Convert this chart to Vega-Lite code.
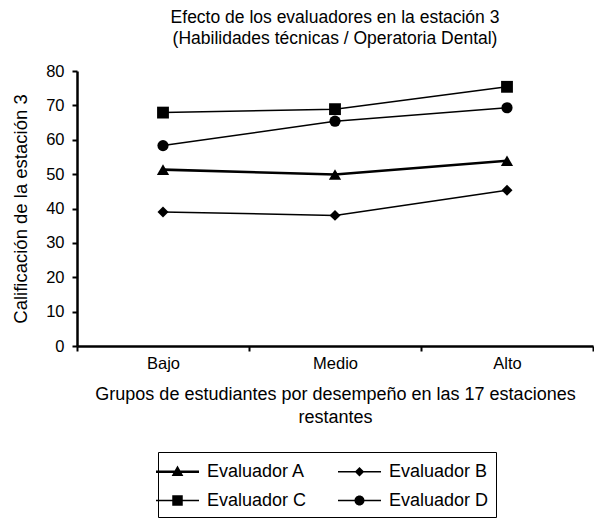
{
  "$schema": "https://vega.github.io/schema/vega-lite/v6.json",
  "width": 516,
  "height": 275,
  "autosize": {"type": "none"},
  "padding": {"left": 77, "top": 71, "right": 1, "bottom": 173},
  "background": "white",
  "config": {
    "font": "Liberation Sans",
    "view": {"stroke": null},
    "title": {"fontSize": 17.5, "fontWeight": "normal", "color": "black", "lineHeight": 21, "offset": 16}
  },
  "title": {"text": ["Efecto de los evaluadores en la estación 3", "(Habilidades técnicas / Operatoria Dental)"], "anchor": "middle"},
  "data": {
    "values": [
      {"grupo": "Bajo", "evaluador": "Evaluador A", "valor": 51.3},
      {"grupo": "Medio", "evaluador": "Evaluador A", "valor": 49.9},
      {"grupo": "Alto", "evaluador": "Evaluador A", "valor": 53.9},
      {"grupo": "Bajo", "evaluador": "Evaluador B", "valor": 39.0},
      {"grupo": "Medio", "evaluador": "Evaluador B", "valor": 38.0},
      {"grupo": "Alto", "evaluador": "Evaluador B", "valor": 45.3},
      {"grupo": "Bajo", "evaluador": "Evaluador C", "valor": 67.9},
      {"grupo": "Medio", "evaluador": "Evaluador C", "valor": 68.9},
      {"grupo": "Alto", "evaluador": "Evaluador C", "valor": 75.4},
      {"grupo": "Bajo", "evaluador": "Evaluador D", "valor": 58.3},
      {"grupo": "Medio", "evaluador": "Evaluador D", "valor": 65.4},
      {"grupo": "Alto", "evaluador": "Evaluador D", "valor": 69.3}
    ]
  },
  "encoding": {
    "x": {
      "field": "grupo", "type": "nominal", "sort": ["Bajo", "Medio", "Alto"],
      "scale": {"paddingInner": 0, "paddingOuter": 0},
      "axis": {
        "title": ["Grupos de estudiantes por desempeño en las 17 estaciones", "restantes"],
        "titleFontSize": 18, "titleFontWeight": "normal", "titleColor": "black", "titleLineHeight": 23, "titlePadding": 14,
        "labelAngle": 0, "labelFontSize": 16.5, "labelColor": "black", "labelPadding": 4,
        "tickBand": "extent", "tickSize": 5, "tickColor": "black", "tickWidth": 2,
        "domainColor": "black", "domainWidth": 2.5, "grid": false
      }
    },
    "y": {
      "field": "valor", "type": "quantitative",
      "scale": {"domain": [0, 80], "nice": false},
      "axis": {
        "title": "Calificación de la estación 3",
        "titleFontSize": 18.5, "titleFontWeight": "normal", "titleColor": "black", "titlePadding": 15,
        "values": [0, 10, 20, 30, 40, 50, 60, 70, 80],
        "labelFontSize": 16.5, "labelColor": "black", "labelPadding": 8,
        "tickSize": 5, "tickColor": "black", "tickWidth": 2,
        "domainColor": "black", "domainWidth": 2.5, "grid": false
      }
    }
  },
  "layer": [
    {
      "mark": {"type": "line", "color": "black"},
      "encoding": {
        "detail": {"field": "evaluador", "type": "nominal"},
        "strokeWidth": {"condition": {"test": "datum.evaluador === 'Evaluador A'", "value": 2.6}, "value": 1.5}
      }
    },
    {
      "transform": [{"filter": "datum.evaluador === 'Evaluador A'"}],
      "mark": {"type": "point", "shape": "triangle-up", "filled": true, "color": "black", "opacity": 1, "size": 150},
      "encoding": {}
    },
    {
      "transform": [{"filter": "datum.evaluador === 'Evaluador B'"}],
      "mark": {"type": "point", "shape": "diamond", "filled": true, "color": "black", "opacity": 1, "size": 120},
      "encoding": {}
    },
    {
      "transform": [{"filter": "datum.evaluador === 'Evaluador C'"}],
      "mark": {"type": "point", "shape": "square", "filled": true, "color": "black", "opacity": 1, "size": 140},
      "encoding": {}
    },
    {
      "transform": [{"filter": "datum.evaluador === 'Evaluador D'"}],
      "mark": {"type": "point", "shape": "circle", "filled": true, "color": "black", "opacity": 1, "size": 125},
      "encoding": {}
    },
    {
      "mark": {"type": "point", "filled": true, "color": "black", "opacity": 0},
      "encoding": {
        "shape": {
          "field": "evaluador", "type": "nominal",
          "scale": {
            "domain": ["Evaluador A", "Evaluador B", "Evaluador C", "Evaluador D"],
            "range": [
              "M-1.72,-0.1H1.72V0.1H-1.72ZM0,-0.5L0.47,0.34H-0.47Z",
              "M-1.72,-0.06H1.72V0.06H-1.72ZM0,-0.38L0.38,0L0,0.38L-0.38,0Z",
              "M-1.72,-0.06H1.72V0.06H-1.72ZM-0.42,-0.42H0.42V0.42H-0.42Z",
              "M-1.72,-0.06H1.72V0.06H-1.72ZM0.4,0A0.4,0.4,0,1,1,-0.4,0A0.4,0.4,0,1,1,0.4,0Z"
            ]
          },
          "legend": {
            "orient": "none", "legendX": 81, "legendY": 381,
            "direction": "horizontal", "columns": 2, "title": null,
            "symbolSize": 625, "symbolFillColor": "black", "symbolStrokeColor": "black", "symbolStrokeWidth": 0, "symbolOpacity": 1,
            "labelFontSize": 18, "labelColor": "black", "labelOffset": 17,
            "columnPadding": 31, "rowPadding": 7, "padding": 7,
            "strokeColor": "black", "fillColor": "white"
          }
        }
      }
    }
  ]
}
